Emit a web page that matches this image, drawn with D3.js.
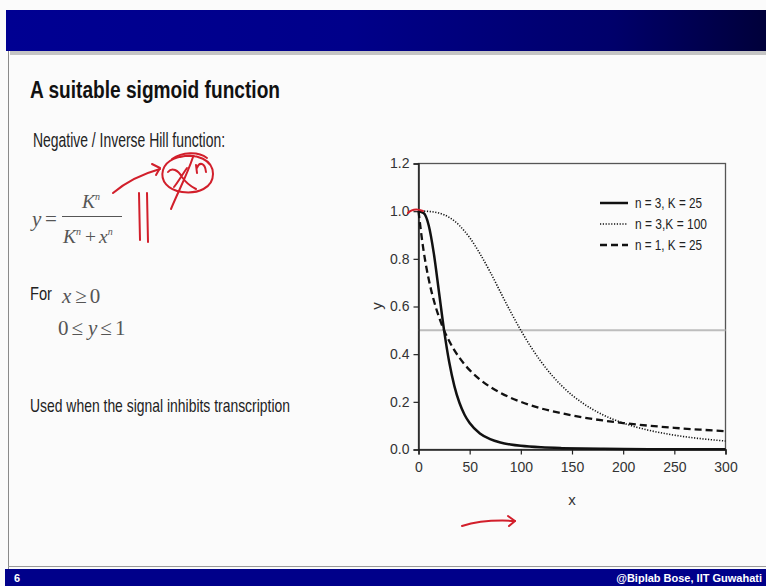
<!DOCTYPE html>
<html>
<head>
<meta charset="utf-8">
<script src="https://cdn.jsdelivr.net/npm/d3@7"></script>
<style>
  html, body { margin: 0; padding: 0; background: #fbfbfb; }
  svg { display: block; }
  text { font-family: "Liberation Sans Narrow", "Arial Narrow", "Liberation Sans", Arial, sans-serif; }
  .serif { font-family: "Liberation Serif", "Times New Roman", serif; font-style: italic; }
  .serif-up { font-family: "Liberation Serif", "Times New Roman", serif; font-style: normal; }
  .chart text { font-family: "Liberation Sans", Arial, sans-serif; }
</style>
</head>
<body>
<svg id="slide" width="766" height="586"></svg>
<script>
// Sample positions along x and the response y = K^n / (K^n + x^n) for three parameter sets
const xs = [0, 5, 10, 15, 20, 25, 30, 35, 40, 45, 50, 60, 70, 80, 90, 100, 120, 140, 160, 180, 200, 225, 250, 275, 300];
const yN3K25 = [1, 0.992, 0.940, 0.822, 0.661, 0.5, 0.367, 0.267, 0.196, 0.146, 0.111, 0.0675, 0.0436, 0.0296, 0.021, 0.0154, 0.009, 0.0057, 0.0038, 0.0027, 0.0019, 0.0014, 0.001, 0.00075, 0.00058];
const yN3K100 = [1, 1.0, 0.999, 0.9966, 0.992, 0.985, 0.974, 0.959, 0.940, 0.916, 0.889, 0.822, 0.745, 0.661, 0.578, 0.5, 0.367, 0.267, 0.196, 0.146, 0.111, 0.0807, 0.0602, 0.0459, 0.0357];
const yN1K25 = [1, 0.833, 0.714, 0.625, 0.556, 0.5, 0.455, 0.417, 0.385, 0.357, 0.333, 0.294, 0.263, 0.238, 0.217, 0.2, 0.172, 0.152, 0.135, 0.122, 0.111, 0.1, 0.0909, 0.0833, 0.0769];
const seriesNames = ["n = 3, K = 25", "n = 3,K = 100", "n = 1, K = 25"];
const xTicks = [0, 50, 100, 150, 200, 250, 300];
const yTicks = [0, 0.2, 0.4, 0.6, 0.8, 1.0, 1.2];
const halfLevel = 0.5;

const svg = d3.select("#slide");

// ---------- slide frame ----------
const defs = svg.append("defs");
const grad = defs.append("linearGradient").attr("id", "bar").attr("x1", 0).attr("x2", 1).attr("y1", 0).attr("y2", 0);
grad.append("stop").attr("offset", 0).attr("stop-color", "#000092");
grad.append("stop").attr("offset", 0.45).attr("stop-color", "#00008a");
grad.append("stop").attr("offset", 0.8).attr("stop-color", "#00006a");
grad.append("stop").attr("offset", 1).attr("stop-color", "#00003a");

svg.append("rect").attr("x", 0).attr("y", 0).attr("width", 766).attr("height", 586).attr("fill", "#fbfbfb");
svg.append("rect").attr("x", 10).attr("y", 51).attr("width", 756).attr("height", 4).attr("fill", "#c4c4c4");
svg.append("rect").attr("x", 6).attr("y", 10).attr("width", 760).attr("height", 41).attr("fill", "url(#bar)");
svg.append("line").attr("x1", 8.5).attr("x2", 8.5).attr("y1", 51).attr("y2", 569).attr("stroke", "#8a8a8a").attr("stroke-width", 1);
svg.append("line").attr("x1", 8).attr("x2", 766).attr("y1", 566.5).attr("y2", 566.5).attr("stroke", "#9a9a9a").attr("stroke-width", 1);
svg.append("rect").attr("x", 5).attr("y", 569).attr("width", 761).attr("height", 17).attr("fill", "#00008a");
svg.append("text").attr("x", 14).attr("y", 581.5).attr("fill", "#fff").attr("font-size", 11).attr("font-weight", "bold").text("6");
svg.append("text").attr("x", 762).attr("y", 581.5).attr("text-anchor", "end").attr("fill", "#fff")
  .attr("font-size", 11).attr("font-weight", "bold").text("@Biplab Bose, IIT Guwahati");

// ---------- left column text ----------
svg.append("text").attr("x", 30).attr("y", 97.5).attr("font-size", 23).attr("font-weight", "bold").attr("fill", "#111")
  .attr("textLength", 250).attr("lengthAdjust", "spacingAndGlyphs").text("A suitable sigmoid function");
svg.append("text").attr("x", 33).attr("y", 146.5).attr("font-size", 20.5).attr("fill", "#222")
  .attr("textLength", 192).attr("lengthAdjust", "spacingAndGlyphs").text("Negative / Inverse Hill function:");

const eq = svg.append("g").attr("fill", "#555");
eq.append("text").attr("class", "serif").attr("x", 32).attr("y", 226).attr("font-size", 21).text("y");
eq.append("text").attr("class", "serif-up").attr("x", 45).attr("y", 226).attr("font-size", 21).text("=");
eq.append("line").attr("x1", 62).attr("x2", 122).attr("y1", 216.5).attr("y2", 216.5).attr("stroke", "#555").attr("stroke-width", 1.1);
const num = eq.append("text").attr("class", "serif").attr("x", 82).attr("y", 208).attr("font-size", 19.5);
num.append("tspan").text("K");
num.append("tspan").attr("dy", -8).attr("font-size", 10).text("n");
const den = eq.append("text").attr("class", "serif").attr("x", 63).attr("y", 243).attr("font-size", 19.5);
den.append("tspan").text("K");
den.append("tspan").attr("dy", -8).attr("font-size", 10).text("n");
den.append("tspan").attr("dy", 8).attr("dx", 4).attr("class", "serif-up").text("+");
den.append("tspan").attr("dx", 3).text("x");
den.append("tspan").attr("dy", -8).attr("font-size", 10).text("n");

svg.append("text").attr("x", 30).attr("y", 300).attr("font-size", 19).attr("fill", "#222")
  .attr("textLength", 22).attr("lengthAdjust", "spacingAndGlyphs").text("For");
const c1 = svg.append("text").attr("x", 62).attr("y", 303).attr("font-size", 21).attr("fill", "#555");
c1.append("tspan").attr("class", "serif").text("x");
c1.append("tspan").attr("class", "serif-up").attr("dx", 4).text("\u2265");
c1.append("tspan").attr("class", "serif-up").attr("dx", 3).text("0");
const c2 = svg.append("text").attr("x", 58).attr("y", 335).attr("font-size", 21).attr("fill", "#555");
c2.append("tspan").attr("class", "serif-up").text("0");
c2.append("tspan").attr("class", "serif-up").attr("dx", 3).text("\u2264");
c2.append("tspan").attr("class", "serif").attr("dx", 5).text("y");
c2.append("tspan").attr("class", "serif-up").attr("dx", 3).text("\u2264");
c2.append("tspan").attr("class", "serif-up").attr("dx", 3).text("1");
svg.append("text").attr("x", 30).attr("y", 411.5).attr("font-size", 19).attr("fill", "#222")
  .attr("textLength", 260).attr("lengthAdjust", "spacingAndGlyphs").text("Used when the signal inhibits transcription");

// ---------- chart ----------
const plotLeft = 418.5, plotRight = 725.5, plotTop = 163.5, plotBottom = 449.5;
const x = d3.scaleLinear().domain([0, 300]).range([plotLeft, plotRight]);
const y = d3.scaleLinear().domain([0, 1.2]).range([plotBottom, plotTop]);
const chart = svg.append("g").attr("class", "chart");

// plot box
chart.append("rect").attr("x", plotLeft).attr("y", plotTop).attr("width", plotRight - plotLeft).attr("height", plotBottom - plotTop)
  .attr("fill", "none").attr("stroke", "#555").attr("stroke-width", 1.3);

// reference level at y = 0.5
chart.append("line").attr("x1", plotLeft).attr("x2", plotRight).attr("y1", y(halfLevel)).attr("y2", y(halfLevel))
  .attr("stroke", "#bdbdbd").attr("stroke-width", 2);

const yAxis = chart.append("g").attr("transform", `translate(${plotLeft},0)`)
  .call(d3.axisLeft(y).tickValues(yTicks).tickFormat(d3.format(".1f")).tickSize(5).tickPadding(4));
const xAxis = chart.append("g").attr("transform", `translate(0,${plotBottom})`)
  .call(d3.axisBottom(x).tickValues(xTicks).tickSize(5).tickPadding(8));
[yAxis, xAxis].forEach(a => {
  a.select(".domain").attr("stroke", "#222").attr("stroke-width", 1.5);
  a.selectAll(".tick line").attr("stroke", "#222").attr("stroke-width", 1.2);
  a.selectAll(".tick text").attr("fill", "#333").attr("font-size", 14);
});

chart.append("text").attr("transform", `translate(382,306) rotate(-90)`).attr("text-anchor", "middle")
  .attr("font-size", 15).attr("fill", "#333").text("y");
chart.append("text").attr("x", 572).attr("y", 505).attr("text-anchor", "middle")
  .attr("font-size", 15).attr("fill", "#333").text("x");

const styles = [
  { data: yN3K25, width: 2.5, dash: null, labelLen: 67 },
  { data: yN3K100, width: 1.6, dash: "1.2,1.6", labelLen: 72 },
  { data: yN1K25, width: 2.3, dash: "7,4", labelLen: 67 }
];
const line = d3.line().x((d, i) => x(xs[i])).y(d => y(d)).curve(d3.curveMonotoneX);
styles.forEach(s => {
  chart.append("path").datum(s.data).attr("d", line).attr("fill", "none").attr("stroke", "#111")
    .attr("stroke-width", s.width).attr("stroke-dasharray", s.dash);
});

// legend
const legend = chart.append("g").attr("transform", "translate(600,203)");
styles.forEach((s, i) => {
  const row = legend.append("g").attr("transform", `translate(0,${i * 21})`);
  row.append("line").attr("x1", 0).attr("x2", 28).attr("stroke", "#111")
    .attr("stroke-width", s.width).attr("stroke-dasharray", s.dash);
  row.append("text").attr("x", 35).attr("y", 5).attr("font-size", 14).attr("fill", "#222")
    .attr("textLength", s.labelLen).attr("lengthAdjust", "spacingAndGlyphs").text(seriesNames[i]);
});

// ---------- pen annotations ----------
const pen = svg.append("g").attr("fill", "none").attr("stroke", "#d21f2b").attr("stroke-width", 2)
  .attr("stroke-linecap", "round").attr("stroke-linejoin", "round");
pen.append("path").attr("d", "M113,193 C126,182 142,174 160,169");
pen.append("path").attr("d", "M152,164 L160,168 L156,175");
pen.append("path").attr("d", "M139,193 L140,240 M147,193 L148,242");
pen.append("path").attr("d", "M180,157 C197,153 213,160 213,174 C213,188 198,194 182,192 C168,190 160,181 163,170 C166,160 178,155 194,156");
pen.append("path").attr("d", "M172,159 C182,152 198,151 207,158");
pen.append("path").attr("d", "M168,172 C172,167 178,170 182,177 C186,183 190,186 196,189 M187,168 C182,175 178,182 174,187");
pen.append("path").attr("d", "M196,165 L197,173 M197,168 C199,162 205,162 206,172");
pen.append("path").attr("d", "M193,157 C187,175 178,192 171,209");
pen.append("path").attr("d", "M408,213 C412,209 418,209 423,211");
pen.append("path").attr("d", "M462,526 C478,521 498,520 515,521");
pen.append("path").attr("d", "M508,516 L515,521 L509,526");
</script>
</body>
</html>
